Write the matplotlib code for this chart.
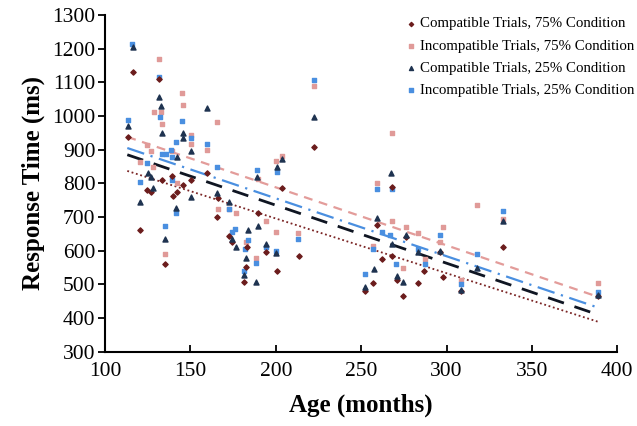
import matplotlib
matplotlib.use("Agg")
import matplotlib.pyplot as plt
import numpy as np

plt.rcParams['font.family'] = ['Liberation Serif', 'DejaVu Serif']

# compatible trials, 75% condition (dark red diamonds)
c75_age = [113.3, 116.6, 131.5, 120.5, 124.4, 126.7, 133.2, 139, 145.5, 139.6,
           142, 134.8, 150.4, 159.5, 165.4, 166.4, 172.6, 174.6, 183, 182.4,
           181.4, 189.4, 194.3, 200.6, 203.5, 213.6, 222.4, 259.2, 257, 252.3,
           262.4, 268, 268.3, 270.9, 274.3, 276.3, 283.1, 287, 296.3, 298.2,
           308.3, 332.9, 389]
c75_rt = [937, 1132, 1110, 662, 781, 773, 810, 822, 796, 763,
          775, 561, 810, 830, 701, 758, 645, 625, 612, 551,
          506, 712, 595, 541, 786, 585, 909, 677, 504, 482,
          575, 790, 585, 514, 467, 640, 504, 540, 595, 523,
          480, 610, 467]

# incompatible trials, 75% condition (pink squares)
i75_age = [131.6, 128.7, 132.6, 133.6, 145.3, 145.5, 150.4, 150.4, 159.5, 165.4,
           222.4, 200.3, 203.5, 139.2, 124.4, 127, 120.7, 128.3, 142, 134.8,
           166.4, 172.6, 176.7, 182.4, 188.3, 189.4, 194.3, 200.2, 213.2, 259.2,
           257, 268, 268.3, 274.3, 276.3, 283.1, 287.5, 296.3, 298.2, 308.3,
           318.1, 332.9, 389]
i75_rt = [1169, 1013, 1013, 976, 1069, 1033, 944, 916, 899, 982,
          1089, 865, 882, 897, 914, 896, 863, 850, 802, 591,
          723, 724, 713, 627, 578, 814, 689, 657, 654, 800,
          615, 951, 687, 550, 670, 652, 575, 627, 670, 514,
          736, 693, 504]

# compatible trials, 25% condition (navy triangles)
c25_age = [113.7, 116.6, 131.6, 132.6, 133.6, 145.5, 145.5, 150.4, 159.5, 222.4,
           200.6, 203.5, 189.2, 142, 125.4, 127, 120.5, 128.3, 134.8, 141.6,
           150.4, 165.4, 172.8, 174.6, 176.6, 183.6, 182.4, 181.4, 189.4, 188.5,
           194.3, 200.3, 259.2, 257.6, 252.3, 267.4, 268, 271.2, 274.3, 276.3,
           283.1, 296.3, 308.3, 318.1, 332.9, 389]
c25_rt = [971, 1204, 1056, 1030, 949, 949, 934, 896, 1023, 998,
          850, 872, 818, 878, 830, 820, 744, 786, 634, 726,
          759, 771, 744, 635, 611, 662, 578, 528, 674, 507,
          620, 592, 697, 546, 492, 832, 620, 526, 507, 647,
          597, 600, 484, 548, 687, 470]

# incompatible trials, 25% condition (blue squares)
i25_age = [113.3, 116, 131.4, 132.4, 145.3, 150.4, 159.5, 165.4, 222.4, 200.6,
           189.2, 141.3, 135.5, 138.7, 139, 124.4, 133.2, 139, 120.5, 134.8,
           141.6, 172.6, 174.2, 176.2, 183.6, 182, 181.4, 188.3, 194.3, 200.2,
           213.2, 259.2, 257, 252.3, 262.4, 267, 268, 270.2, 283.1, 287.5,
           296.3, 308.3, 318.1, 332.9, 389]
i25_rt = [988, 1214, 1115, 998, 986, 934, 917, 850, 1107, 833,
          840, 922, 888, 899, 879, 860, 888, 810, 803, 674,
          712, 724, 655, 665, 632, 606, 541, 563, 612, 600,
          634, 783, 606, 531, 657, 647, 783, 561, 606, 561,
          647, 500, 590, 719, 479]

# linear trend lines, read at the ends of the age range
fit_age = [113, 389]
fit_c75 = [837, 389]
fit_i75 = [938, 463]
fit_c25 = [885, 410]
fit_i25 = [905, 431]

fig = plt.figure(figsize=(6.37, 4.26), dpi=100)
ax = fig.add_axes([0.165, 0.174, 0.804, 0.791])

ax.plot(fit_age, fit_i75, color='#e39c9a', lw=1.6, ls=(0, (4, 3)), zorder=1)
ax.plot(fit_age, fit_i25, color='#4a8fe0', lw=1.6, ls=(0, (8, 3, 1, 3)), zorder=1)
ax.plot(fit_age, fit_c25, color='#0f1522', lw=2.0, ls=(0, (6, 4)), zorder=1)
ax.plot(fit_age, fit_c75, color='#7a2424', lw=1.3, ls=(0, (1, 1.5)), zorder=1)

ax.scatter(c75_age, c75_rt, marker='D', s=7, color='#6b1c1c',
           label='Compatible Trials, 75% Condition', zorder=3)
ax.scatter(i75_age, i75_rt, marker='s', s=12, color='#e09a98',
           label='Incompatible Trials, 75% Condition', zorder=2)
ax.scatter(c25_age, c25_rt, marker='^', s=13, color='#1f3350',
           label='Compatible Trials, 25% Condition', zorder=3)
ax.scatter(i25_age, i25_rt, marker='s', s=12, color='#4a8fe0',
           label='Incompatible Trials, 25% Condition', zorder=2)

ax.set_xlim(100, 400)
ax.set_ylim(300, 1300)
ax.set_xticks(np.arange(100, 401, 50))
ax.set_yticks(np.arange(300, 1301, 100))
ax.spines['top'].set_visible(False)
ax.spines['right'].set_visible(False)
ax.spines['left'].set_linewidth(1.5)
ax.spines['bottom'].set_linewidth(1.5)
ax.tick_params(axis='y', direction='out', length=5, width=1.3, labelsize=15.5, pad=2)
ax.tick_params(axis='x', direction='in', length=5, width=1.3, labelsize=15.5, pad=7)

ax.set_xlabel('Age (months)', fontsize=18, fontweight='bold', labelpad=9)
ax.set_ylabel('Response Time (ms)', fontsize=18, fontweight='bold', labelpad=5)

ax.legend(loc='upper right', bbox_to_anchor=(1.05, 1.02), frameon=False,
          fontsize=10.7, handletextpad=0.1, markerscale=0.8, labelspacing=0.58,
          borderaxespad=0.2, handlelength=0.9)

fig.savefig('out.png', dpi=100)
